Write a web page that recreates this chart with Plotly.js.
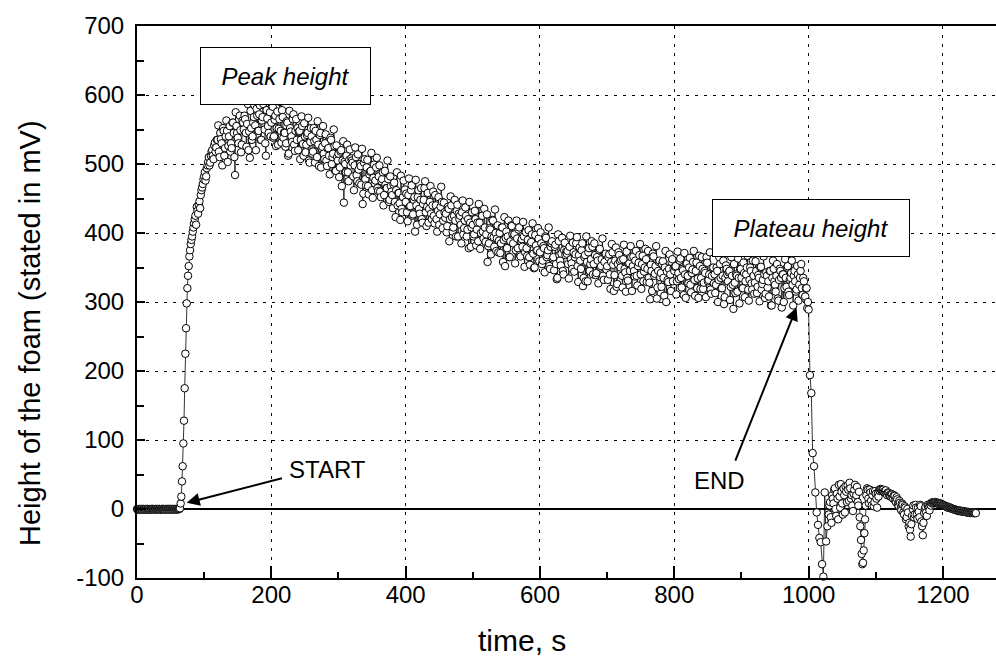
<!DOCTYPE html>
<html>
<head>
<meta charset="utf-8">
<script src="https://cdn.plot.ly/plotly-3.0.1.min.js"></script>
<style>
html,body{margin:0;padding:0;background:#fff;}
#chart{width:996px;height:657px;}
</style>
</head>
<body>
<div id="chart"></div>
<script>
// ---- sampling: every segment is sampled every 2 s, "odd" arrays hold the in-between samples ----
const sampleStep = 2;

// ---- baseline before foaming ----
const baselineStart = 0;
const baselineHeight = [0,-1,0,0,-1,0,-1,-1,0,0,-1,0,0,-1,0,0,-1,0,-1,0,0,-1,0,0,-1,0,0,-1,0,0,-1,0];
const baselineOddStart = 1;
const baselineOddHeight = [-1,0,-1,0,0,-1,0,0,-1,-1,0,0,-1,0,-1,0,0,-1,0,0,-1,0,-1,0,0,-1,0,0,-1,0,0,0];

// ---- rise of the foam ----
const riseStart = 64;
const riseHeight = [1,18,62,128,225,298,338,366,384,395,408,420,412,432,441,436,462,471,482,476,494,503,498,512,520,507,531,524];
const riseOddStart = 65;
const riseOddHeight = [8,40,95,175,262,320,352,375,390,402,414,425,438,428,446,455,466,478,488,482,498,510,502,518,512,527,518,535];

// ---- peak and decay to the plateau ----
const decayStart = 120;
const decayHeight = [
535,518,545,530,552,512,540,548,526,555,
530,560,545,484,555,538,565,549,528,560,
570,545,558,520,509,552,540,568,556,580,
548,572,535,563,587,550,512,566,545,575,
560,583,540,570,552,528,565,548,578,538,
545,530,560,515,552,540,565,528,548,535,
520,548,535,555,512,540,528,545,505,532,
540,518,533,548,510,528,542,495,525,515,
530,505,522,512,538,500,515,526,490,510,
515,495,520,505,444,500,512,488,506,498,
505,482,498,510,475,492,500,470,442,502,
478,495,468,485,490,462,480,472,495,465,
482,460,475,488,455,470,465,478,448,468,
455,470,445,462,440,458,419,435,452,460,
445,430,455,438,462,425,448,402,440,452,
435,448,420,442,465,430,438,415,445,428,
440,425,455,420,432,412,438,445,418,430,
428,410,435,420,440,402,425,418,432,395,
420,412,430,398,418,425,405,378,415,408,
412,398,420,405,388,415,400,425,392,408,
398,358,385,405,395,418,380,400,392,372,
400,385,408,390,352,402,395,365,388,410,
385,398,375,392,405,368,388,380,395,372,
378,390,365,385,398,370,350,382,375,392,
372,385,360,378,395,365,375,352,380,388,
365,380,355,335,388,360,370,345,375,368,
370,355,380,362,348,372,365,385,352,368,
360,375,323,365,330,358,372,345,362,380,
355,368,342,360,375,350,362,338,358,370,
352,365,340,358,372,316,360,322,355,368,
350,338,362,348,315,335,355,345,365,352,
345,360,338,352,368,340,355,330,350,362,
348,335,304,345,370,338,352,305,345,360,
342,355,335,350,300,332,348,340,358,330,
345,352,330,342,360,335,348,310,340,355,
338,350,325,342,358,332,345,320,306,352,
335,348,328,342,365,330,340,318,338,350,
340,325,345,332,355,320,338,297,335,348,
330,345,322,338,290,328,340,315,335,348,
335,320,342,330,350,318,332,345,318,338,
328,345,322,335,350,318,332,340,312,338,
330,345,295,335,348,325,338,305,332,345,
292,340,320,335,350,315,332,342,325,338,
330,318,340,325,345,320,335,306,320,291
];
const decayOddStart = 121;
const decayOddHeight = [
556,510,536,498,548,523,563,503,540,518,
523,560,510,575,545,530,570,517,563,550,
565,525,587,547,577,535,560,585,520,570,
548,585,535,568,592,530,578,555,588,540,
584,538,564,526,576,551,590,531,568,546,
525,562,512,577,547,532,572,519,565,552,
547,507,569,529,559,517,542,567,502,552,
515,552,502,535,562,497,545,522,555,507,
543,497,523,485,535,510,550,490,527,505,
481,518,468,533,503,488,528,475,521,508,
502,462,524,484,514,472,497,522,457,507,
469,506,456,489,516,451,499,476,509,461,
498,452,478,440,490,465,505,445,482,460,
436,473,423,488,458,443,483,430,476,463,
457,417,479,439,469,427,452,477,412,462,
428,465,415,448,475,410,458,435,468,420,
460,414,440,402,452,427,467,407,444,422,
401,438,388,453,423,408,448,395,441,428,
425,385,447,407,437,395,420,445,380,430,
395,432,382,415,442,377,425,402,435,387,
427,381,407,369,419,394,434,374,411,389,
371,408,358,423,393,378,418,365,411,398,
396,356,418,378,408,366,391,416,351,401,
367,404,354,387,414,349,397,374,407,359,
401,355,381,343,393,368,408,348,385,363,
346,383,333,398,368,353,393,340,386,373,
374,334,396,356,386,344,369,394,329,379,
348,385,335,368,395,330,378,355,388,340,
385,339,365,327,377,352,392,332,369,347,
332,369,319,384,354,339,379,326,372,359,
361,321,383,343,373,331,356,381,316,366,
337,374,324,357,384,319,367,344,377,329,
374,328,354,316,366,341,381,321,358,336,
322,359,309,374,344,329,369,316,362,349,
351,311,373,333,363,321,346,371,306,356,
327,364,314,347,374,309,357,334,367,319,
365,319,345,307,357,332,372,312,349,327,
313,350,300,365,335,320,360,307,353,340,
343,303,365,325,355,313,338,363,298,348,
320,357,307,340,367,302,350,327,360,312,
359,313,339,301,351,326,366,306,343,321,
308,345,295,360,330,315,355,302,348,335,
340,300,362,322,352,310,335,360,295,345,
315,352,302,335,355,310,330,308,320,300
];

// ---- collapse and after-end signal ----
const tailStart = 1000;
const tailHeight = [
289,194,168,81,62,24,-5,-23,-42,-48,
-80,-98,24,-47,-25,-8,10,-20,15,28,
0,22,-15,18,36,8,30,-5,25,34,
12,30,20,-3,28,15,32,5,-12,-45,
-80,-60,-15,20,28,8,24,5,26,10,
22,2,18,26,28,27,25,26,22,24,
20,18,21,15,19,10,14,4,9,-2,
6,-8,2,-12,-5,-20,-40,-10,5,-8,
2,-14,-4,6,-18,-38,-6,3,-10,4,
-2,5,8,9,10,9,8,8,7,7,
6,5,4,3,2,2,1,0,0,-1,
-2,-2,-3,-3,-3,-4,-4,-4,-5,-5,
-5,-5,-5,-6,-5
];
const tailOddStart = 1031;
const tailOddHeight = [
5,-12,20,8,30,-10,15,35,2,25,
-8,20,33,10,28,38,15,5,22,35,
20,10,25,-25,-65,-78,-35,5,30,15,
28,12,20,4,26,15,22,28,29,26,
28,24,27,20,23,19,22,16,20,12,
17,6,12,0,8,-5,4,-15,0,-25,
-30,-22,0,-12,6,-8,2,-12,4,-25,
-20,0,-5,6,2,7,9,10,9,10,
8,9,7,8,6,6,4,4,2,3,
1,1,0,-1,-1,-2,-3,-2,-3,-4,
-3,-4,-5,-4,-5,-6,-5,-5,-6,-6
];

// ---- axis ticks and texts ----
const yTickValues = [-100,0,100,200,300,400,500,600,700];
const yTickLabels = ['-100','0','100','200','300','400','500','600','700'];
const xTickValues = [0,200,400,600,800,1000,1200];
const xTickLabels = ['0','200','400','600','800','1000','1200'];
const xTitle = 'time, s';
const yTitle = 'Height of the foam (stated in mV)';
const labelPeak = 'Peak height';
const labelPlateau = 'Plateau height';
const labelStart = 'START';
const labelEnd = 'END';

// ---- build one time-ordered series ----
const segments = [
  [baselineStart, baselineHeight], [baselineOddStart, baselineOddHeight],
  [riseStart, riseHeight], [riseOddStart, riseOddHeight],
  [decayStart, decayHeight], [decayOddStart, decayOddHeight],
  [tailStart, tailHeight], [tailOddStart, tailOddHeight]
];
const pts = [];
segments.forEach(([start, vals]) => {
  vals.forEach((v, i) => pts.push([start + i * sampleStep, v]));
});
pts.sort((a, b) => a[0] - b[0]);
const time = pts.map(p => p[0]);
const height = pts.map(p => p[1]);

const trace = {
  x: time, y: height,
  type: 'scatter', mode: 'lines+markers',
  line: {color: 'black', width: 0.8},
  marker: {symbol: 'circle', size: 7.5, color: 'white', line: {color: 'black', width: 1}},
  cliponaxis: false,
  hoverinfo: 'skip'
};

const fontFam = 'Liberation Sans, Arial, Helvetica, sans-serif';

const layout = {
  width: 996, height: 657,
  margin: {l: 137, r: 0, t: 26, b: 79, pad: 0},
  paper_bgcolor: 'white', plot_bgcolor: 'white',
  showlegend: false,
  font: {family: fontFam, color: 'black', size: 24},
  xaxis: {
    range: [0, 1279], tickmode: 'array', tickvals: xTickValues, ticktext: xTickLabels,
    ticks: 'inside', ticklen: 12, tickwidth: 2, tickcolor: 'black',
    ticklabelstandoff: -6,
    showline: true, linecolor: 'black', linewidth: 2, mirror: true,
    showgrid: true, gridcolor: 'black', gridwidth: 1, griddash: '3px,6px',
    zeroline: false,
    tickfont: {size: 24, color: 'black'},
    title: {text: ''},
    minor: {tickmode: 'linear', tick0: 0, dtick: 100, ticks: 'inside', ticklen: 6, tickwidth: 2, tickcolor: 'black', showgrid: false}
  },
  yaxis: {
    range: [-100, 700], tickmode: 'array', tickvals: yTickValues, ticktext: yTickLabels,
    ticks: 'inside', ticklen: 8, tickwidth: 2, tickcolor: 'black',
    ticklabelstandoff: 6,
    showline: true, linecolor: 'black', linewidth: 2,
    showgrid: true, gridcolor: 'black', gridwidth: 1, griddash: '3px,6px',
    zeroline: true, zerolinecolor: 'black', zerolinewidth: 2,
    tickfont: {size: 24, color: 'black'},
    title: {text: ''},
    minor: {tickmode: 'linear', tick0: 0, dtick: 50, ticks: 'inside', ticklen: 7, tickwidth: 2, tickcolor: 'black', showgrid: false}
  },
  annotations: [
    // axis titles (placed as in the reference, off-centre)
    {x: 0.4482, y: -0.114, xref: 'paper', yref: 'paper', text: xTitle, showarrow: false,
     font: {family: fontFam, size: 30, color: 'black'}, xanchor: 'center', yanchor: 'middle'},
    {x: -0.1246, y: 0.4438, xref: 'paper', yref: 'paper', text: yTitle, showarrow: false,
     textangle: -90, font: {family: fontFam, size: 29, color: 'black'}, xanchor: 'center', yanchor: 'middle'},
    // labelled boxes
    {x: 221, y: 628, xref: 'x', yref: 'y', text: labelPeak, showarrow: false,
     font: {family: fontFam, size: 24, style: 'italic', color: 'black'},
     bgcolor: 'white', bordercolor: 'black', borderwidth: 1, borderpad: 0,
     width: 169, height: 56, xanchor: 'center', yanchor: 'middle'},
    {x: 1003.5, y: 407, xref: 'x', yref: 'y', text: labelPlateau, showarrow: false,
     font: {family: fontFam, size: 24, style: 'italic', color: 'black'},
     bgcolor: 'white', bordercolor: 'black', borderwidth: 1, borderpad: 0,
     width: 196, height: 56, xanchor: 'center', yanchor: 'middle'},
    // START / END labels and arrows
    {x: 284, y: 57, xref: 'x', yref: 'y', text: labelStart, showarrow: false,
     font: {family: fontFam, size: 24, color: 'black'}, xanchor: 'center', yanchor: 'middle'},
    {x: 868, y: 41, xref: 'x', yref: 'y', text: labelEnd, showarrow: false,
     font: {family: fontFam, size: 24, color: 'black'}, xanchor: 'center', yanchor: 'middle'},
    {x: 74, y: 9, ax: 218, ay: 45, xref: 'x', yref: 'y', axref: 'x', ayref: 'y',
     text: '', showarrow: true, arrowhead: 2, arrowsize: 1.3, arrowwidth: 2, arrowcolor: 'black'},
    {x: 982, y: 292, ax: 890, ay: 68, xref: 'x', yref: 'y', axref: 'x', ayref: 'y',
     text: '', showarrow: true, arrowhead: 2, arrowsize: 1.3, arrowwidth: 2, arrowcolor: 'black'}
  ]
};

Plotly.newPlot('chart', [trace], layout, {displayModeBar: false, staticPlot: true});
</script>
</body>
</html>
